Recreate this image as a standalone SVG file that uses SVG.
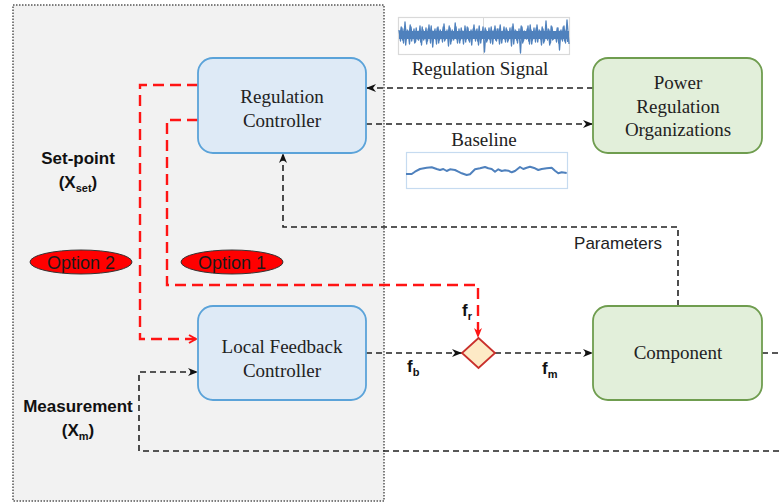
<svg xmlns="http://www.w3.org/2000/svg" width="779" height="504" viewBox="0 0 779 504">
  <style>
    .node-text { font-family: "Liberation Serif", "Times New Roman", serif; font-size: 19px; fill: #222; text-anchor: middle; }
    .label { font-family: "Liberation Sans", Arial, sans-serif; font-size: 17px; font-weight: bold; fill: #111; text-anchor: middle; }
    .sub { font-size: 11px; }
    .blue-box { fill: #deeaf6; stroke: #5ba3d9; stroke-width: 1.8; }
    .green-box { fill: #e2efda; stroke: #6f9d4f; stroke-width: 1.8; }
    .link { fill: none; stroke: #222; stroke-width: 1.6; stroke-dasharray: 6 4; }
    .red { fill: none; stroke: #ff1414; stroke-width: 2.4; stroke-dasharray: 11 6; }
    .opt { fill: #ff0000; stroke: #333; stroke-width: 1; }
    .opt-text { font-family: "Liberation Sans", Arial, sans-serif; font-size: 18px; fill: #1a1a1a; text-anchor: middle; }
    .noise { fill: none; stroke: #4f81bd; stroke-width: 1.3; stroke-linejoin: round; }
  </style>
  <defs>
    <marker id="arrow" viewBox="0 0 10 8" refX="10" refY="4" markerWidth="10" markerHeight="8" markerUnits="userSpaceOnUse" orient="auto">
      <path d="M0,0 L10,4 L0,8 L3,4 z" fill="#111"/>
    </marker>
    <marker id="arrow-red" viewBox="0 0 10 8" refX="10" refY="4" markerWidth="10" markerHeight="9" markerUnits="userSpaceOnUse" orient="auto">
      <path d="M0,0 L10,4 L0,8 L3,4 z" fill="#ff1414"/>
    </marker>
    <marker id="chevron-red" viewBox="0 0 10 10" refX="9" refY="5" markerWidth="10" markerHeight="10" markerUnits="userSpaceOnUse" orient="auto">
      <path d="M2,1 L9,5 L2,9" fill="none" stroke="#ff1414" stroke-width="2" stroke-dasharray="none"/>
    </marker>
  </defs>

  <rect width="779" height="504" fill="#ffffff"/>

  <!-- local control panel -->
  <rect x="13" y="5" width="371" height="496" fill="#f2f2f2" stroke="#555" stroke-width="1.5" stroke-dasharray="1.5 1.5"/>

  <!-- signal plots -->
  <g id="regulation-signal-plot">
    <rect x="398.5" y="17.5" width="171" height="37" fill="#ffffff" stroke="#d9d9d9" stroke-width="1.2"/>
    <line x1="483.5" y1="17.5" x2="483.5" y2="54.5" stroke="#d9d9d9" stroke-width="1"/>
    <rect x="399" y="31" width="170" height="8" fill="#4f81bd"/>
    <polyline class="noise" points="399,30 400.5,41 402,28 403.5,43 405,22 406.5,39 408,31 409.5,44 411,27 412.5,38 414,29 415.5,42 417,33 418.5,40 420,26 421.5,45 423,30 424.5,38 426,28 427.5,41 429,25 430.5,43 432,31 433.5,37 435,29 436.5,44 438,27 439.5,40 441,32 442.5,42 444,24 445.5,39 447,30 448.5,46 450,28 451.5,41 453,33 454.5,38 456,27 457.5,43 459,29 460.5,40 462,31 463.5,44 465,26 466.5,39 468,28 469.5,42 471,30 472.5,37 474,25 475.5,41 477,29 478.5,45 480,32 481.5,39 483,27 484.5,52 486,30 487.5,40 489,28 490.5,43 492,31 493.5,38 495,26 496.5,41 498,29 499.5,44 501,33 502.5,39 504,27 505.5,42 507,30 508.5,40 510,28 511.5,46 513,24 514.5,38 516,31 517.5,43 519,29 520.5,53 522,27 523.5,41 525,32 526.5,39 528,26 529.5,44 531,30 532.5,40 534,28 535.5,42 537,25 538.5,38 540,31 541.5,45 543,29 544.5,41 546,21 547.5,40 549,30 550.5,43 552,27 553.5,39 555,32 556.5,42 558,28 559.5,50 561,30 562.5,41 564,26 565.5,43 567,20 568.5,38 569,44"/>
    <polyline class="noise" points="399.7,37 401.2,27 402.7,40 404.2,29 405.7,45 407.2,30 408.7,38 410.2,25 411.7,41 413.2,32 414.7,43 416.2,28 417.7,39 419.2,31 420.7,42 422.2,27 423.7,40 425.2,33 426.7,44 428.2,29 429.7,38 431.2,26 432.7,47 434.2,31 435.7,39 437.2,28 438.7,43 440.2,30 441.7,37 443.2,27 444.7,41 446.2,33 447.7,38 449.2,26 450.7,44 452.2,30 453.7,40 455.2,23 456.7,39 458.2,32 459.7,43 461.2,28 462.7,38 464.2,31 465.7,42 467.2,27 468.7,40 470.2,33 471.7,45 473.2,29 474.7,38 476.2,30 477.7,41 479.2,26 480.7,43 482.2,31 483.7,38 485.2,28 486.7,42 488.2,32 489.7,39 491.2,27 492.7,44 494.2,30 495.7,40 497.2,29 498.7,37 500.2,25 501.7,43 503.2,31 504.7,39 506.2,28 507.7,42 509.2,32 510.7,38 512.2,27 513.7,44 515.2,30 516.7,40 518.2,33 519.7,39 521.2,26 522.7,43 524.2,31 525.7,37 527.2,29 528.7,41 530.2,25 531.7,44 533.2,32 534.7,38 536.2,28 537.7,42 539.2,30 540.7,39 542.2,27 543.7,43 545.2,31 546.7,37 548.2,29 549.7,45 551.2,26 552.7,40 554.2,32 555.7,38 557.2,28 558.7,43 560.2,31 561.7,39 563.2,27 564.7,41 566.2,30 567.7,42"/>
  </g>
  <g id="baseline-plot">
    <rect x="406.5" y="152.5" width="161" height="36" fill="#ffffff" stroke="#c6dbf0" stroke-width="1.2"/>
    <polyline fill="none" stroke="#4f81bd" stroke-width="2" stroke-linejoin="round" points="406,174 411.7,174 415,171.7 420,169 426.7,167.7 431.7,167.3 436.7,169 440,170 443.3,169 446.7,171 450,169.3 455,170 458.3,171.7 461.7,173.3 466.7,175 470,174.3 475,169.3 480,168.3 485,167 488.3,168.3 491.7,169 495,171.7 498.3,169.3 501.7,171 505,170.3 508.3,170.7 511.7,172.3 515,171 520,167 523.3,169 526.7,167.7 530,166.7 535,168.3 538.3,170 541.7,169 546.7,168.3 551.7,167.7 555,170.7 558.3,173.3 561.7,172.3 566.7,173"/>
  </g>

  <!-- connectors -->
  <g id="connectors">
    <path class="link" d="M593,88 H366" marker-end="url(#arrow)"/>
    <path class="link" d="M366,124 H593" marker-end="url(#arrow)"/>
    <path class="link" d="M678,306 V227 H283 V153" marker-end="url(#arrow)"/>
    <path class="link" d="M366,353 H462" marker-end="url(#arrow)"/>
    <path class="link" d="M495,353 H593" marker-end="url(#arrow)"/>
    <path class="link" d="M762,353 H779"/>
    <path class="link" d="M779,451 H139 V372 H198" marker-end="url(#arrow)"/>
    <path class="red" d="M198,85 H140 V339 H196" marker-end="url(#chevron-red)"/>
    <path class="red" d="M198,120 H167 V285 H478 V338" marker-end="url(#arrow-red)"/>
  </g>

  <!-- nodes -->
  <g id="regulation-controller">
    <rect class="blue-box" x="198" y="58" width="168" height="95" rx="15"/>
    <text class="node-text" x="282" y="103">Regulation</text>
    <text class="node-text" x="282" y="127">Controller</text>
  </g>
  <g id="local-feedback-controller">
    <rect class="blue-box" x="198" y="306" width="168" height="94" rx="15"/>
    <text class="node-text" x="282" y="353">Local Feedback</text>
    <text class="node-text" x="282" y="377">Controller</text>
  </g>
  <g id="power-regulation-organizations">
    <rect class="green-box" x="593" y="58" width="169" height="95" rx="15"/>
    <text class="node-text" x="678" y="89">Power</text>
    <text class="node-text" x="678" y="113">Regulation</text>
    <text class="node-text" x="678" y="136">Organizations</text>
  </g>
  <g id="component">
    <rect class="green-box" x="593" y="306" width="169" height="94" rx="15"/>
    <text class="node-text" x="678" y="359">Component</text>
  </g>
  <g id="summing-junction">
    <polygon points="478.5,338 495,353 478.5,368 462,353" fill="#fdeac6" stroke="#c9302c" stroke-width="1.8"/>
  </g>
  <g id="option-2">
    <ellipse class="opt" cx="81" cy="262" rx="51" ry="12"/>
    <text class="opt-text" x="81" y="269">Option 2</text>
  </g>
  <g id="option-1">
    <ellipse class="opt" cx="232" cy="262" rx="51" ry="12"/>
    <text class="opt-text" x="232" y="269">Option 1</text>
  </g>

  <!-- labels -->
  <text class="node-text" x="480" y="75">Regulation Signal</text>
  <text class="node-text" x="484" y="146">Baseline</text>
  <text x="618" y="249" style="font-family:'Liberation Sans', Arial, sans-serif; font-size:17px; fill:#222; text-anchor:middle;">Parameters</text>
  <text class="label" x="78" y="164">Set-point</text>
  <text class="label" x="78" y="188">(X<tspan class="sub" dy="4">set</tspan><tspan dy="-4">)</tspan></text>
  <text class="label" x="78" y="412">Measurement</text>
  <text class="label" x="78" y="436">(X<tspan class="sub" dy="4">m</tspan><tspan dy="-4">)</tspan></text>
  <text class="label" x="462" y="316" style="text-anchor:start">f<tspan class="sub" dy="4">r</tspan></text>
  <text class="label" x="407" y="372" style="text-anchor:start">f<tspan class="sub" dy="4">b</tspan></text>
  <text class="label" x="542" y="374" style="text-anchor:start">f<tspan class="sub" dy="4">m</tspan></text>
</svg>
